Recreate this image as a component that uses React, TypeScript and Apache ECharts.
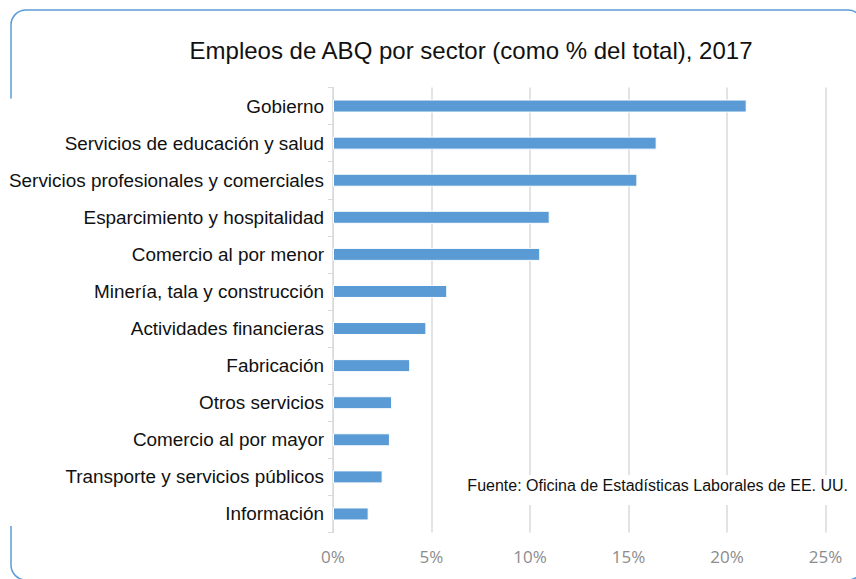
import React, { useEffect, useRef } from "react";
import * as echarts from "echarts";

const categories: string[] = [
  "Gobierno",
  "Servicios de educación y salud",
  "Servicios profesionales y comerciales",
  "Esparcimiento y hospitalidad",
  "Comercio al por menor",
  "Minería, tala y construcción",
  "Actividades financieras",
  "Fabricación",
  "Otros servicios",
  "Comercio al por mayor",
  "Transporte y servicios públicos",
  "Información",
];

const values: number[] = [21.0, 16.43, 15.45, 11.0, 10.52, 5.8, 4.74, 3.92, 3.0, 2.89, 2.52, 1.81];

const xTicks: number[] = [0, 5, 10, 15, 20, 25];

const titleText = "Empleos de ABQ por sector (como % del total), 2017";
const sourceText = "Fuente: Oficina de Estadísticas Laborales de EE. UU.";

const SANS = "'Liberation Sans', Arial, sans-serif";

const FRAME = "#5b9bd5";
const frameStyle = { fill: "none", stroke: FRAME, lineWidth: 1.5 };

function frameElements() {
  const L = 11, T = 10, R = 863, B = 580, r = 15;
  const line = (x1: number, y1: number, x2: number, y2: number) => ({
    type: "line",
    silent: true,
    z: 20,
    shape: { x1, y1, x2, y2 },
    style: { stroke: FRAME, lineWidth: 1.5 },
  });
  const arc = (cx: number, cy: number, s: number, e: number) => ({
    type: "arc",
    silent: true,
    z: 20,
    shape: { cx, cy, r, startAngle: s, endAngle: e, clockwise: true },
    style: frameStyle,
  });
  const P = Math.PI;
  return [
    arc(L + r, T + r, P, 1.5 * P),
    line(L + r, T, R - r, T),
    arc(R - r, T + r, 1.5 * P, 2 * P),
    line(R, T + r, R, B - r),
    arc(R - r, B - r, 0, 0.5 * P),
    line(R - r, B, L + r, B),
    arc(L + r, B - r, 0.5 * P, P),
    line(L, B - r, L, 526),
    line(L, T + r, L, 98.5),
  ];
}

export default function App() {
  const ref = useRef<HTMLDivElement>(null);
  useEffect(() => {
    if (!ref.current) return;
    const chart = echarts.init(ref.current, null, { renderer: "svg" });
    chart.setOption({
      animation: false,
      backgroundColor: "#ffffff",
      title: {
        text: titleText,
        left: 466,
        textAlign: "center",
        top: 33,
        textStyle: {
          fontFamily: SANS,
          fontSize: 24,
          fontWeight: "normal",
          color: "#111111",
        },
      },
      grid: { left: 333, right: 30.5, top: 87.5, bottom: 46.5, containLabel: false },
      xAxis: {
        type: "value",
        min: xTicks[0],
        max: xTicks[xTicks.length - 1],
        interval: 5,
        axisLine: { show: false },
        axisTick: { show: false },
        splitLine: { show: true, lineStyle: { color: "#e3e3e3", width: 2 } },
        axisLabel: {
          formatter: (v: number) => `${v}%`,
          color: "#8c8c8c",
          fontFamily: "'Open Sans', sans-serif",
          fontSize: 17,
          margin: 15,
        },
      },
      yAxis: {
        type: "category",
        data: categories,
        inverse: true,
        axisLine: { show: true, lineStyle: { color: "#d9d9d9", width: 1 } },
        axisTick: { show: true, length: 5, lineStyle: { color: "#d9d9d9" } },
        axisLabel: {
          color: "#111111",
          fontFamily: SANS,
          fontSize: 18.9,
          margin: 9,
        },
      },
      series: [
        {
          type: "bar",
          data: values,
          barWidth: 13,
          itemStyle: { color: "#5b9bd5", borderColor: "#ffffff", borderWidth: 1 },
        },
      ],
      graphic: [
        ...frameElements(),
        {
          type: "rect",
          z: 20,
          shape: { x: 460, y: 475, width: 394, height: 30 },
          style: { fill: "#ffffff" },
          silent: true,
        },
        {
          type: "text",
          z: 22,
          right: 8,
          top: 477,
          style: {
            text: sourceText,
            fill: "#111111",
            font: "16px 'Liberation Sans', Arial, sans-serif",
          },
        },
      ],
    });
    return () => chart.dispose();
  }, []);
  return (
    <div
      ref={ref}
      style={{ position: "fixed", left: 0, top: 0, width: 856, height: 579 }}
    />
  );
}
